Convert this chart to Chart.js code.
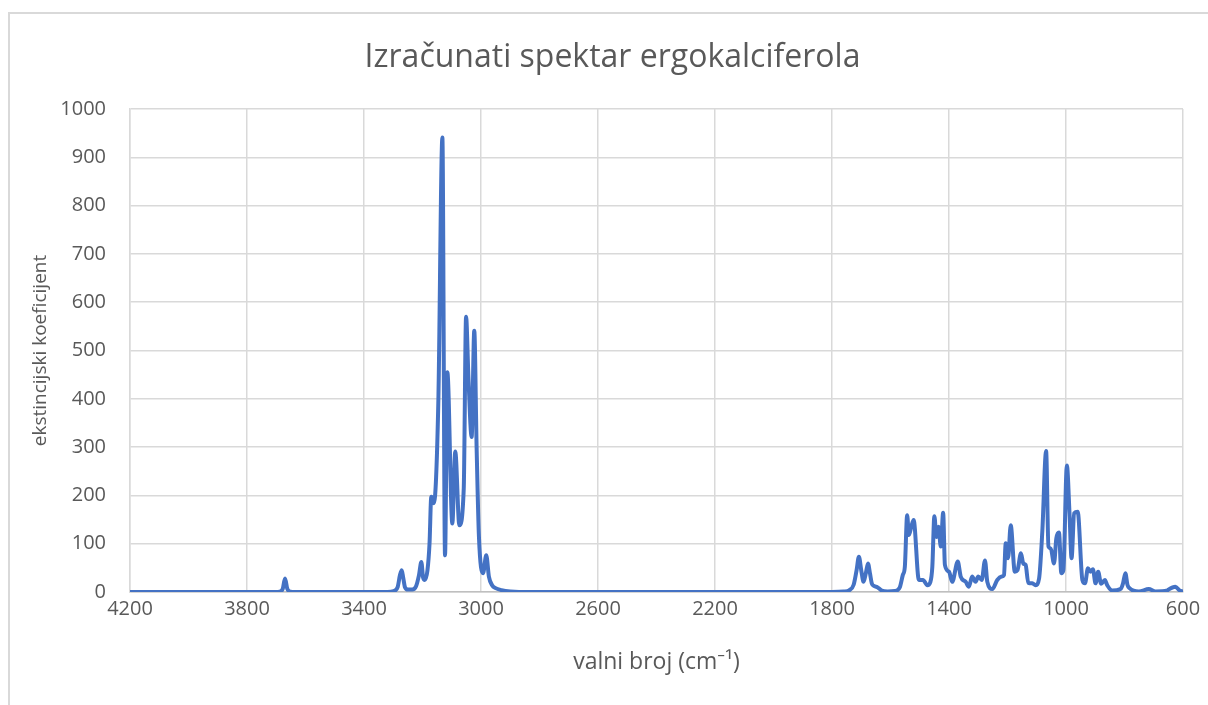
<!DOCTYPE html>
<html>
<head>
<meta charset="utf-8">
<title>Izračunati spektar ergokalciferola</title>
<script src="https://cdn.jsdelivr.net/npm/chart.js@4"></script>
<style>
    html, body { margin: 0; padding: 0; background: #ffffff; }
    #wrap { width: 1208px; height: 705px; }
</style>
</head>
<body>
<div id="wrap"><canvas id="spectrumChart" width="1208" height="705"></canvas></div>
<script>
// wave numbers (cm-1) and extinction coefficients
const waveNumbers = [
    4200, 3700, 3688, 3678, 3670, 3662, 3652, 3640,
    3320, 3298, 3285, 3277, 3271, 3266, 3260, 3250, 3235, 3222, 3212, 3204, 3198, 3192, 3183, 3176,
    3170, 3163, 3161, 3146, 3132, 3123, 3115, 3098, 3088, 3074, 3059, 3051, 3043, 3032, 3023, 3015,
    3007, 2993, 2982, 2973, 2962, 2950, 2930, 2900, 2870,
    1800, 1760, 1740, 1726, 1716, 1708, 1700, 1692, 1684, 1677, 1670, 1664, 1655, 1645, 1630, 1610,
    1585, 1568, 1558, 1551, 1543, 1537, 1529, 1521, 1503, 1489, 1474, 1464, 1457, 1450, 1443, 1436,
    1428, 1420, 1414, 1400, 1389, 1370, 1360, 1343, 1332, 1321, 1309, 1300, 1288, 1277, 1269, 1252,
    1235, 1220, 1212, 1206, 1198, 1189, 1175, 1166, 1154, 1146, 1138, 1129, 1115, 1104, 1092, 1081,
    1068, 1060, 1052, 1041, 1033, 1024, 1016, 1009, 997, 988, 981, 972, 960, 944, 935, 925,
    916, 908, 899, 890, 880, 867, 859, 842, 814, 805, 797, 790, 783, 751, 717, 694,
    654, 650, 626, 613, 600
];
const extinction = [
    0, 0, 1, 6, 28, 6, 1, 0,
    0, 2, 10, 35, 45, 30, 10, 5, 5, 12, 35, 62, 30, 25, 45, 100,
    197, 190, 184, 390, 941, 76, 455, 142, 291, 138, 214, 570, 445, 321, 541, 300,
    114, 39, 76, 32, 14, 8, 4, 1, 0,
    0, 1, 4, 15, 45, 73, 45, 21, 40, 59, 38, 18, 12, 10, 3, 1,
    2, 10, 35, 52, 159, 118, 135, 149, 25, 25, 14, 20, 52, 157, 114, 135,
    94, 164, 56, 42, 21, 63, 32, 21, 11, 32, 21, 32, 25, 65, 21, 6,
    25, 32, 35, 101, 70, 138, 42, 45, 80, 59, 56, 19, 18, 14, 28, 125,
    292, 94, 90, 59, 111, 123, 39, 45, 262, 163, 70, 163, 166, 25, 18, 49,
    42, 47, 18, 42, 17, 25, 14, 3, 6, 18, 39, 15, 8, 1, 6, 1,
    3, 5, 11, 4, 1
];

const chartTitle = 'Izračunati spektar ergokalciferola';
const xAxisTitle = 'valni broj (cm⁻¹)';
const yAxisTitle = 'ekstincijski koeficijent';

const textColor = '#595959';
const gridColor = '#d9d9d9';
const fontFamily = '"Open Sans", "Noto Sans", sans-serif';

// outer frame like the Excel chart area
const framePlugin = {
    id: 'frame',
    beforeDraw(chart) {
        const c = chart.ctx;
        c.save();
        c.fillStyle = '#ffffff';
        c.fillRect(0, 0, chart.width, chart.height);
        c.strokeStyle = gridColor;
        c.lineWidth = 2;
        c.beginPath();
        c.moveTo(9, chart.height);
        c.lineTo(9, 13);
        c.lineTo(chart.width, 13);
        c.stroke();
        c.restore();
    }
};

const ctx = document.getElementById('spectrumChart').getContext('2d');

const points = waveNumbers.map((w, i) => ({ x: w, y: extinction[i] }));

new Chart(ctx, {
    type: 'line',
    data: {
        datasets: [{
            label: 'ergokalciferol',
            data: points,
            borderColor: '#4472C4',
            borderWidth: 4,
            pointRadius: 0,
            fill: false,
            cubicInterpolationMode: 'monotone',
            borderJoinStyle: 'round',
            borderCapStyle: 'round'
        }]
    },
    options: {
        responsive: false,
        devicePixelRatio: 1,
        animation: false,
        layout: {
            padding: { left: 42, right: 25, top: 0, bottom: 0 }
        },
        plugins: {
            legend: { display: false },
            tooltip: { enabled: false },
            title: {
                display: true,
                text: chartTitle,
                color: textColor,
                font: { family: fontFamily, size: 32, weight: 'normal', lineHeight: 1.2 },
                padding: { top: 39, bottom: 31.6 }
            }
        },
        scales: {
            x: {
                type: 'linear',
                reverse: true,
                min: 600,
                max: 4200,
                afterFit(scale) { scale.height = 113; },
                ticks: {
                    stepSize: 400,
                    color: textColor,
                    padding: 5,
                    maxRotation: 0,
                    format: { useGrouping: false },
                    font: { family: fontFamily, size: 20 }
                },
                grid: { color: gridColor, lineWidth: 1.5, drawTicks: false },
                border: { color: '#bfbfbf', width: 1.5 },
                title: {
                    display: true,
                    text: xAxisTitle,
                    color: textColor,
                    font: { family: fontFamily, size: 23, lineHeight: 1.2 },
                    padding: { top: 0, bottom: 29 }
                }
            },
            y: {
                min: 0,
                max: 1000,
                afterFit(scale) { scale.width = 88; },
                ticks: {
                    stepSize: 100,
                    color: textColor,
                    padding: 24,
                    format: { useGrouping: false },
                    font: { family: fontFamily, size: 20 }
                },
                grid: { color: gridColor, lineWidth: 1.5, drawTicks: false },
                border: { color: gridColor, width: 1.5 },
                title: {
                    display: true,
                    text: yAxisTitle,
                    color: textColor,
                    font: { family: fontFamily, size: 19, lineHeight: 1.2 },
                    padding: { top: -13, bottom: 0 }
                }
            }
        }
    },
    plugins: [framePlugin]
});
</script>
</body>
</html>
